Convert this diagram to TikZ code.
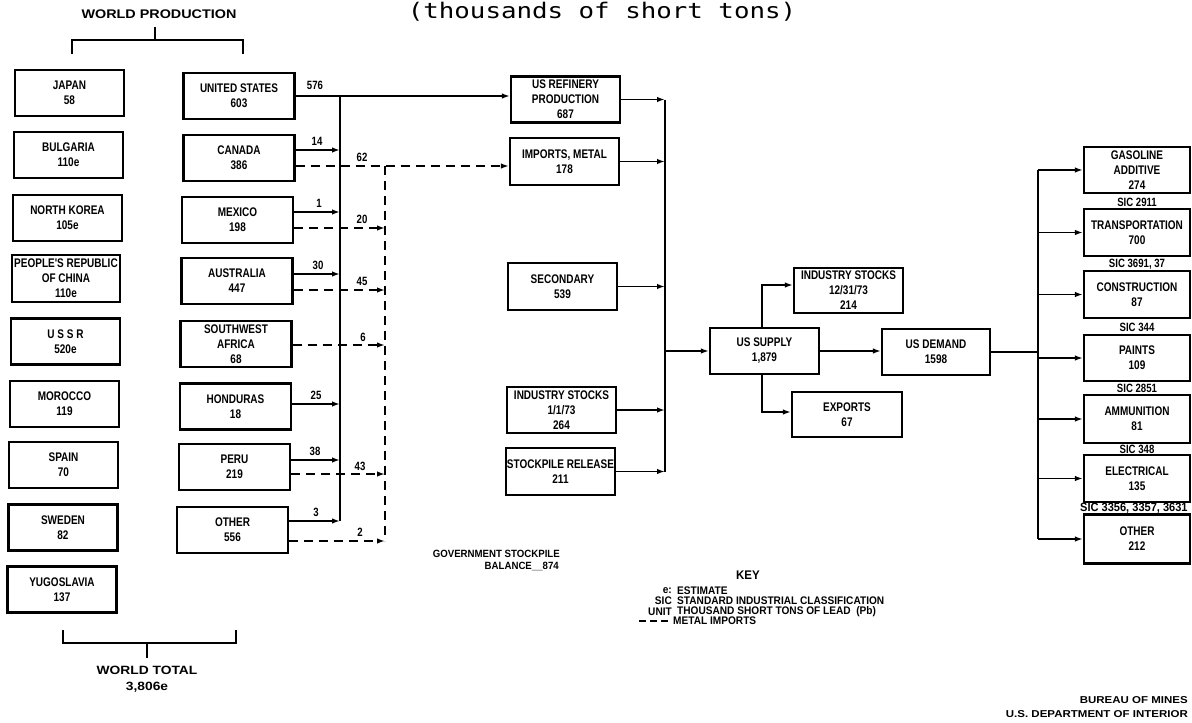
\documentclass[tikz,border=0pt]{standalone}
\usepackage{fontspec}
\usetikzlibrary{arrows.meta}
\newfontfamily\lbl{Liberation Sans Bold}[FakeStretch=0.8]
\newfontfamily\keyf{Liberation Sans Bold}[FakeStretch=0.92]
\newfontfamily\widef{Liberation Sans Bold}[FakeStretch=1.15]
\newfontfamily\ttl{DejaVu Sans Mono}[FakeStretch=1.2]
\begin{document}
\begin{tikzpicture}[x=1pt,y=-1pt,
  bx/.style={draw,line width=2.2pt,inner sep=0pt,minimum width=109pt,minimum height=46pt,align=center,font=\lbl\fontsize{12.5}{15}\selectfont},
  ln/.style={line width=1.8pt},
  arr/.style={ln,-{Latex[length=8pt,width=5.5pt]}},
  dsh/.style={ln,dash pattern=on 9pt off 6pt},
  num/.style={font=\lbl\fontsize{12}{14}\selectfont,inner sep=0pt},
  keyt/.style={font=\keyf\fontsize{11}{12}\selectfont,inner sep=0pt},
  widet/.style={font=\widef\fontsize{12.5}{16}\selectfont,inner sep=0pt,align=center},
  brk/.style={line width=2.6pt}]
\useasboundingbox (0,0) rectangle (1192,723);

% title
\node[font=\ttl\fontsize{21.5}{24}\selectfont,anchor=base,inner sep=0pt] (title) at (602,18) {(thousands of short tons)};

% world production bracket
\node[widet] (wp) at (159,14) {WORLD PRODUCTION};
\coordinate (wpa) at (72,54);
\coordinate (wpb) at (72,40);
\coordinate (wpc) at (243,40);
\coordinate (wpd) at (243,54);
\coordinate (wps) at (155,40);
\coordinate (wpt) at (155,27);
\draw[brk] (wpa) -- (wpb) -- (wpc) -- (wpd);
\draw[brk] (wps) -- (wpt);

% left column
\node[bx] (japan) at (69.5,93) {JAPAN\\58};
\node[bx] (bulg) at (68.5,155) {BULGARIA\\110e};
\node[bx] (nkor) at (67.5,218) {NORTH KOREA\\105e};
\node[bx,minimum width=108pt,minimum height=47pt] (prc) at (66,278.5) {PEOPLE'S REPUBLIC\\OF CHINA\\110e};
\node[bx] (ussr) at (65.5,341.5) {U S S R\\520e};
\node[bx] (mor) at (64.5,404) {MOROCCO\\119};
\node[bx] (spain) at (63.5,465) {SPAIN\\70};
\node[bx] (swe) at (63,527.5) {SWEDEN\\82};
\node[bx] (yugo) at (62,589.5) {YUGOSLAVIA\\137};

% world total bracket
\coordinate (wta) at (63,630);
\coordinate (wtb) at (63,643);
\coordinate (wtc) at (236,643);
\coordinate (wtd) at (236,630);
\coordinate (wts) at (147,643);
\coordinate (wtt) at (147,658);
\draw[brk] (wta) -- (wtb) -- (wtc) -- (wtd);
\draw[brk] (wts) -- (wtt);
\node[widet,font=\widef\fontsize{12}{16}\selectfont] (wt) at (147,679) {WORLD TOTAL\\3,806e};

% country column
\node[bx,minimum width=111pt] (us) at (239,96) {UNITED STATES\\603};
\node[bx,minimum width=111pt] (can) at (239,158) {CANADA\\386};
\node[bx,minimum width=111pt] (mex) at (237.5,220) {MEXICO\\198};
\node[bx,minimum width=111pt] (aus) at (237,281) {AUSTRALIA\\447};
\node[bx,minimum width=111pt] (swa) at (236,344) {SOUTHWEST\\AFRICA\\68};
\node[bx,minimum width=111pt] (hon) at (235.5,406.5) {HONDURAS\\18};
\node[bx,minimum width=111pt] (peru) at (234.5,467) {PERU\\219};
\node[bx,minimum width=111pt] (oth) at (232.5,530) {OTHER\\556};

% central column
\node[bx] (ref) at (565.5,99.5) {US REFINERY\\PRODUCTION\\687};
\node[bx,minimum height=47pt] (imp) at (564.5,161.5) {IMPORTS, METAL\\178};
\node[bx,minimum height=47pt] (sec) at (562.5,286.5) {SECONDARY\\539};
\node[bx] (ist) at (561.5,410) {INDUSTRY STOCKS\\1/1/73\\264};
\node[bx,minimum height=47pt] (stk) at (560.5,471.5) {STOCKPILE RELEASE\\211};

% supply / demand
\node[bx] (sup) at (764.5,351) {US SUPPLY\\1,879};
\node[bx,minimum height=45pt] (ist2) at (848.5,290.5) {INDUSTRY STOCKS\\12/31/73\\214};
\node[bx,minimum width=110pt,minimum height=45pt] (exp) at (847,414.5) {EXPORTS\\67};
\node[bx,minimum width=108pt] (dem) at (936,352) {US DEMAND\\1598};

% right column
\node[bx,minimum width=106pt] (gas) at (1137,170) {GASOLINE\\ADDITIVE\\274};
\node[bx,minimum width=106pt,minimum height=47pt] (tra) at (1137,232.5) {TRANSPORTATION\\700};
\node[bx,minimum width=106pt,minimum height=47pt] (con) at (1137,294.5) {CONSTRUCTION\\87};
\node[bx,minimum width=106pt] (pai) at (1137,358) {PAINTS\\109};
\node[bx,minimum width=106pt,minimum height=48pt] (amm) at (1137,419) {AMMUNITION\\81};
\node[bx,minimum width=106pt,minimum height=47pt] (ele) at (1137,478.5) {ELECTRICAL\\135};
\node[bx,minimum width=106pt,minimum height=49pt] (oth2) at (1137,539) {OTHER\\212};

% SIC labels
\node[num] (sic1) at (1137,202) {SIC 2911};
\node[num] (sic2) at (1137,264) {SIC 3691, 37};
\node[num] (sic3) at (1137,327) {SIC 344};
\node[num] (sic4) at (1137,388) {SIC 2851};
\node[num] (sic5) at (1137,449) {SIC 348};
\node[num,anchor=west,font=\keyf\fontsize{12}{14}\selectfont] (sic6) at (1080,508.5) {SIC 3356, 3357, 3631};

% ---- solid flows from countries ----
\coordinate (sb) at (340,96);
\coordinate (s14) at (340,150);
\coordinate (s1) at (340,212);
\coordinate (s30) at (340,274);
\coordinate (s25) at (340,404);
\coordinate (s38) at (340,460);
\coordinate (s3) at (340,521);
\draw[arr] (us.east) -- (us.east -| ref.west);
\draw[ln] (sb) -- (s3);
\draw[arr] (can.east |- s14) -- (s14);
\draw[arr] (mex.east |- s1) -- (s1);
\draw[arr] (aus.east |- s30) -- (s30);
\draw[arr] (hon.east |- s25) -- (s25);
\draw[arr] (peru.east |- s38) -- (s38);
\draw[arr] (oth.east |- s3) -- (s3);
\node[num] (l576) at (315,85) {576};
\node[num] (l14) at (317,141) {14};
\node[num] (l1) at (319,203) {1};
\node[num] (l30) at (318,265) {30};
\node[num] (l25) at (316,395) {25};
\node[num] (l38) at (315,451) {38};
\node[num] (l3) at (316,512) {3};

% ---- dashed metal imports ----
\coordinate (dtop) at (385,166);
\coordinate (d20) at (385,228);
\coordinate (d45) at (385,290);
\coordinate (d6) at (385,345);
\coordinate (d43) at (385,474);
\coordinate (d2) at (385,541);
\draw[dsh,arr] (can.east |- dtop) -- (dtop -| imp.west);
\draw[dsh] (dtop) -- (d2);
\draw[dsh,arr] (mex.east |- d20) -- (d20);
\draw[dsh,arr] (aus.east |- d45) -- (d45);
\draw[dsh,arr] (swa.east |- d6) -- (d6);
\draw[dsh,arr] (peru.east |- d43) -- (d43);
\draw[dsh,arr] (oth.east |- d2) -- (d2);
\node[num] (l62) at (362,157) {62};
\node[num] (l20) at (362,219) {20};
\node[num] (l45) at (362,281) {45};
\node[num] (l6) at (363,337) {6};
\node[num] (l43) at (360,466) {43};
\node[num] (l2) at (360,532) {2};

% ---- central bus ----
\coordinate (cb) at (665,0);
\draw[arr] (ref.east) -- (cb |- ref.east);
\draw[arr] (imp.east) -- (cb |- imp.east);
\draw[arr] (sec.east) -- (cb |- sec.east);
\draw[arr] (ist.east) -- (cb |- ist.east);
\draw[arr] (stk.east) -- (cb |- stk.east);
\draw[ln] (cb |- ref.east) -- (cb |- stk.east);
\draw[arr] (cb |- sup.west) -- (sup.west);

% ---- supply outputs ----
\coordinate (uk) at (762,285);
\coordinate (dk) at (762,412);
\draw[arr] (sup.north -| uk) -- (uk) -- (uk -| ist2.west);
\draw[arr] (sup.south -| dk) -- (dk) -- (dk -| exp.west);
\draw[arr] (sup.east) -- (sup.east -| dem.west);

% ---- demand bus ----
\coordinate (rb) at (1038,0);
\draw[ln] (dem.east) -- (rb |- dem.east);
\draw[ln] (rb |- gas.west) -- (rb |- oth2.west);
\draw[arr] (rb |- gas.west) -- (gas.west);
\draw[arr] (rb |- tra.west) -- (tra.west);
\draw[arr] (rb |- con.west) -- (con.west);
\draw[arr] (rb |- pai.west) -- (pai.west);
\draw[arr] (rb |- amm.west) -- (amm.west);
\draw[arr] (rb |- ele.west) -- (ele.west);
\draw[arr] (rb |- oth2.west) -- (oth2.west);

% ---- stockpile note ----
\node[keyt,anchor=east,font=\keyf\fontsize{10.5}{12}\selectfont] (gs1) at (560,554) {GOVERNMENT STOCKPILE};
\node[keyt,anchor=east,font=\keyf\fontsize{10.5}{12}\selectfont] (gs2) at (559,566) {BALANCE\_\_874};

% ---- key ----
\node[keyt,font=\keyf\fontsize{12.5}{13}\selectfont] (key) at (748,575) {KEY};
\node[keyt,anchor=east] (k1a) at (672,591) {e:};
\node[keyt,anchor=west] (k1b) at (677,591) {ESTIMATE};
\node[keyt,anchor=east] (k2a) at (672,601) {SIC};
\node[keyt,anchor=west] (k2b) at (677,601) {STANDARD INDUSTRIAL CLASSIFICATION};
\node[keyt,anchor=east] (k3a) at (672,612) {UNIT};
\node[keyt,anchor=west] (k3b) at (677,612) {THOUSAND SHORT TONS OF LEAD \ (Pb)};
\coordinate (k4a) at (639,621);
\coordinate (k4b) at (670,621);
\draw[ln,dash pattern=on 7pt off 4pt] (k4a) -- (k4b);
\node[keyt,anchor=west] (k4) at (673,621) {METAL IMPORTS};

% ---- credit ----
\node[keyt,font=\widef\fontsize{10}{12}\selectfont,anchor=east] (bm1) at (1188,700) {BUREAU OF MINES};
\node[keyt,font=\widef\fontsize{10}{12}\selectfont,anchor=east] (bm2) at (1188,714) {U.S. DEPARTMENT OF INTERIOR};
\end{tikzpicture}
\end{document}
